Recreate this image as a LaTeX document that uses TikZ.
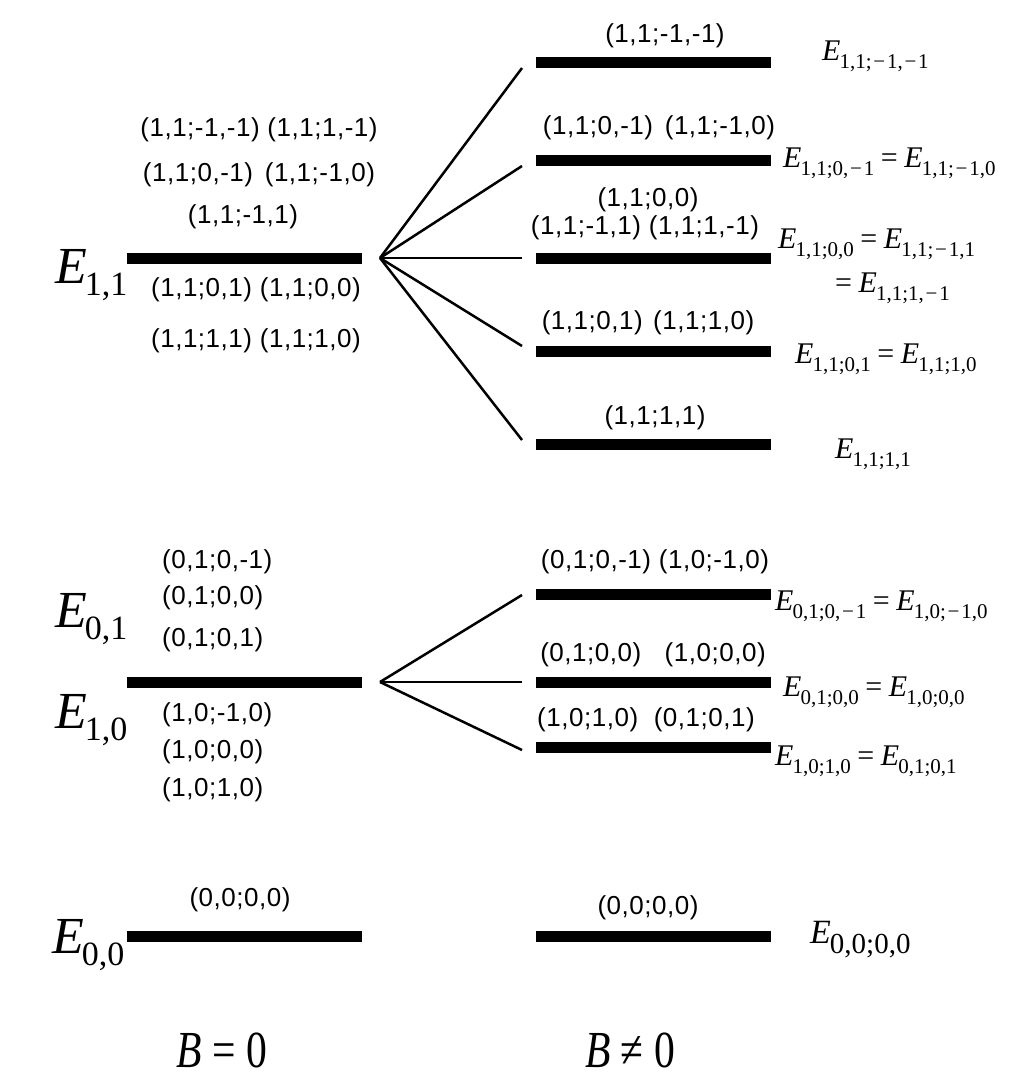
\documentclass[tikz,border=0pt]{standalone}
\usepackage{fontspec}
\usepackage{graphicx}
\newfontfamily\labfont[LetterSpace=2]{Liberation Sans}
\newfontfamily\tmsfont{Liberation Serif}
\newcommand\mn{\kern1.8pt−\kern1.8pt}
\newcommand\Ebig[1]{{\tmsfont\fontsize{52}{52}\selectfont\textit{E}\kern-2pt\raisebox{-12pt}{\fontsize{34}{34}\selectfont #1}}}
\newcommand\Esml[1]{{\tmsfont\fontsize{30}{30}\selectfont\textit{E}\kern-1pt\raisebox{-8pt}{\fontsize{21}{21}\selectfont #1}}}
\newcommand\Ezero[1]{{\tmsfont\fontsize{34}{34}\selectfont\textit{E}\kern-1pt\raisebox{-10pt}{\fontsize{29}{29}\selectfont #1}}}
\newcommand\eqsg{{\tmsfont\fontsize{30}{30}\selectfont\hspace{0.22em}=\hspace{0.22em}}}
\tikzset{
  level/.style={line width=11pt},
  fan/.style={line width=2.5pt},
  lab/.style={inner sep=0pt, font=\labfont\fontsize{26}{30}\selectfont},
  elab/.style={inner sep=0pt, anchor=base west},
}
\begin{document}
\begin{tikzpicture}[x=1pt,y=-1pt]
\useasboundingbox (0,0) rectangle (1024,1079);
% ---- left levels
\coordinate (A1) at (127,258); \coordinate (A2) at (362,258);
\coordinate (B1) at (127,682); \coordinate (B2) at (362,682);
\coordinate (C1) at (127,936); \coordinate (C2) at (362,936);
\draw[level] (A1) -- (A2);
\draw[level] (B1) -- (B2);
\draw[level] (C1) -- (C2);
% ---- right levels
\foreach \n/\y in {r1/62, r2/160, r3/258, r4/351, r5/444, m1/594, m2/682, m3/747, z1/936}{
  \coordinate (\n a) at (536,\y); \coordinate (\n b) at (771,\y);
  \draw[level] (\n a) -- (\n b);
}
% ---- fans
\coordinate (F1) at (380,258);
\coordinate (e1) at (522,68);
\coordinate (e2) at (522,166);
\coordinate (e3) at (522,258);
\coordinate (e4) at (522,346);
\coordinate (e5) at (522,440);
\foreach \e in {e1,e2,e3,e4,e5} \draw[fan] (F1) -- (\e);
\coordinate (F2) at (380,682);
\coordinate (g1) at (522,595);
\coordinate (g2) at (522,682);
\coordinate (g3) at (522,750);
\foreach \e in {g1,g2,g3} \draw[fan] (F2) -- (\e);
% ---- left big labels
\node[elab] (E11) at (55,283) {\Ebig{1,1}};
\node[elab] (E01) at (55,627) {\Ebig{0,1}};
\node[elab] (E10) at (55,728) {\Ebig{1,0}};
\node[elab] (E00) at (52,953) {\Ebig{0,0}};
% ---- left state labels
\node[lab] (l1) at (259,130) {(1,1;-1,-1) (1,1;1,-1)};
\node[lab] (l2) at (259,175) {(1,1;0,-1)\hspace{0.45em}(1,1;-1,0)};
\node[lab] (l3) at (243,217) {(1,1;-1,1)};
\node[lab] (l4) at (256,290) {(1,1;0,1) (1,1;0,0)};
\node[lab] (l5) at (256,341) {(1,1;1,1) (1,1;1,0)};
\node[lab,anchor=west] (l6) at (162,562) {(0,1;0,-1)};
\node[lab,anchor=west] (l7) at (162,598) {(0,1;0,0)};
\node[lab,anchor=west] (l8) at (162,640) {(0,1;0,1)};
\node[lab,anchor=west] (l9) at (162,715) {(1,0;-1,0)};
\node[lab,anchor=west] (l10) at (162,752) {(1,0;0,0)};
\node[lab,anchor=west] (l11) at (162,790) {(1,0;1,0)};
\node[lab] (l12) at (240,900) {(0,0;0,0)};
% ---- right state labels
\node[lab] (s1) at (665,36) {(1,1;-1,-1)};
\node[lab] (s2) at (659,128) {(1,1;0,-1)\hspace{0.45em}(1,1;-1,0)};
\node[lab] (s3) at (648,200) {(1,1;0,0)};
\node[lab] (s4) at (645,228) {(1,1;-1,1) (1,1;1,-1)};
\node[lab] (s5) at (648,323) {(1,1;0,1)\hspace{0.4em}(1,1;1,0)};
\node[lab] (s6) at (655,418) {(1,1;1,1)};
\node[lab] (s7) at (655,562) {(0,1;0,-1) (1,0;-1,0)};
\node[lab] (s8) at (653,655) {(0,1;0,0)\hspace{0.9em}(1,0;0,0)};
\node[lab] (s9) at (646,720) {(1,0;1,0)\hspace{0.6em}(0,1;0,1)};
\node[lab] (s10) at (648,908) {(0,0;0,0)};
% ---- right energy labels
\node[elab] (R1) at (822,60) {\Esml{1,1;\mn1,\mn1}};
\node[elab] (R2) at (783,167) {\Esml{1,1;0,\mn1}\eqsg\Esml{1,1;\mn1,0}};
\node[elab] (R3) at (778,248) {\Esml{1,1;0,0}\eqsg\Esml{1,1;\mn1,1}};
\node[elab] (R3b) at (835,292) {{\tmsfont\fontsize{30}{30}\selectfont=\hspace{0.22em}}\Esml{1,1;1,\mn1}};
\node[elab] (R4) at (795,363) {\Esml{1,1;0,1}\eqsg\Esml{1,1;1,0}};
\node[elab] (R5) at (835,458) {\Esml{1,1;1,1}};
\node[elab] (M1) at (775,610) {\Esml{0,1;0,\mn1}\eqsg\Esml{1,0;\mn1,0}};
\node[elab] (M2) at (783,696) {\Esml{0,1;0,0}\eqsg\Esml{1,0;0,0}};
\node[elab] (M3) at (775,765) {\Esml{1,0;1,0}\eqsg\Esml{0,1;0,1}};
\node[elab] (Z1) at (810,943) {\Ezero{0,0;0,0}};
% ---- bottom captions
\node[inner sep=0pt] (b0) at (222,1050) {\tmsfont\fontsize{52}{52}\selectfont\scalebox{0.8}[1]{\textit{B} = 0}};
\node[inner sep=0pt] (b1) at (630,1050) {\tmsfont\fontsize{52}{52}\selectfont\scalebox{0.8}[1]{\textit{B} ≠ 0}};
\end{tikzpicture}
\end{document}
